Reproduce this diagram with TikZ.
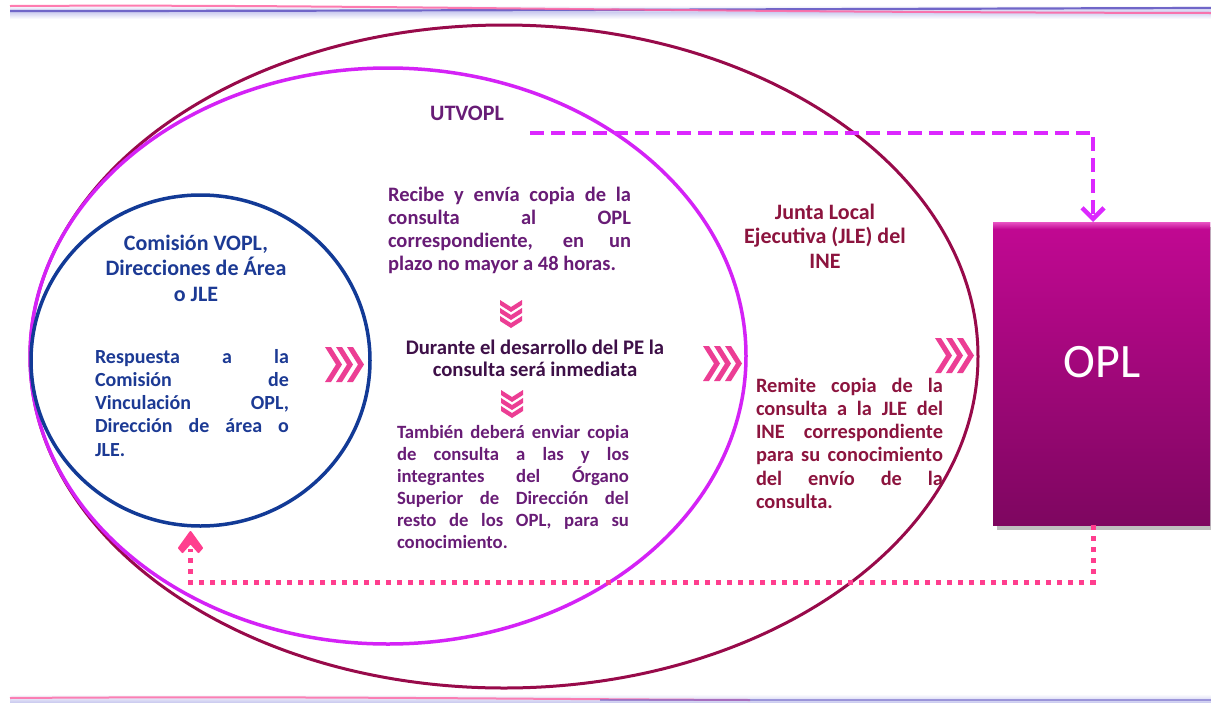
\documentclass[tikz,border=0pt]{standalone}
\usepackage{fontspec}
\setmainfont{Carlito}
\usetikzlibrary{shapes.geometric,arrows.meta}
\definecolor{crim}{RGB}{152,10,74}
\definecolor{mag}{RGB}{212,34,246}
\definecolor{blu}{RGB}{18,58,150}
\definecolor{dashc}{RGB}{220,40,255}
\definecolor{dotc}{RGB}{255,62,142}
\definecolor{chevc}{RGB}{236,62,148}
\definecolor{txtblue}{RGB}{28,58,148}
\definecolor{txtpurp}{RGB}{104,28,118}
\definecolor{txtdark}{RGB}{62,16,72}
\definecolor{txtcrim}{RGB}{140,20,62}
\definecolor{opltop}{RGB}{194,8,147}
\definecolor{oplbot}{RGB}{126,6,96}
\definecolor{oplbev}{RGB}{232,84,196}
\definecolor{bandlav}{RGB}{205,205,240}
\definecolor{bandblue}{RGB}{112,102,200}
\definecolor{bandpink}{RGB}{255,100,162}
\newcommand{\jl}[2]{\makebox[#1][s]{#2}}
\begin{document}
\begin{tikzpicture}[x=1pt,y=-1pt,
  ring/.style={ellipse, inner sep=0pt, outer sep=0pt, draw, fill=none},
  txt/.style={inner sep=0pt, outer sep=0pt, align=left},
  ctxt/.style={inner sep=0pt, outer sep=0pt, align=center},
  dashline/.style={draw=dashc, line width=4.5pt, dash pattern=on 14pt off 7pt, -{Straight Barb[length=11pt,width=22pt]}},
  dotline/.style={draw=dotc, line width=5pt, dash pattern=on 5pt off 6pt},
  chevR/.pic={\foreach \i in {0,11,22} {\fill[chevc] (\i,-17.5) -- ++(6,0) -- ++(11,17.5) -- ++(-11,17.5) -- ++(-6,0) -- ++(11,-17.5) -- cycle;}},
  chevD/.pic={\foreach \i in {0,8,16} {\fill[chevc] (-11,\i) -- (0,\i+7) -- (11,\i) -- (11,\i+5) -- (0,\i+12) -- (-11,\i+5) -- cycle;}}
]
\useasboundingbox (0,0) rectangle (1211,702);
\fill[white] (0,0) rectangle (1211,702);
% decorative bands
\shade[top color=white, bottom color=white, middle color=bandlav] (10,5) rectangle (1211,19);
\draw[line width=2.2pt, bandblue] (10,11) .. controls (400,11) and (800,9) .. (1211,8);
\draw[line width=2pt, bandpink, opacity=0.85] (10,6) .. controls (350,4) and (600,12) .. (1211,13);
\shade[top color=white, bottom color=bandlav] (10,694) rectangle (1211,702);
\draw[line width=2pt, bandpink, opacity=0.8] (10,698) .. controls (300,696) and (500,699) .. (750,700);
\draw[line width=2pt, bandblue, opacity=0.6] (600,700) -- (1211,700);
% ellipses
\node[ring, draw=crim, line width=3pt, minimum width=948pt, minimum height=663pt] (jle) at (504,356.5) {};
\node[ring, draw=mag, line width=3.5pt, minimum width=716pt, minimum height=576pt] (utv) at (388,356) {};
\node[ring, draw=blu, line width=3.5pt, minimum width=339pt, minimum height=331pt] (com) at (200.5,360.5) {};
% OPL box
\fill[black, opacity=0.25] (997,227) rectangle (1214,530);
\node[inner sep=0pt, outer sep=0pt, minimum width=217pt, minimum height=303pt, top color=opltop, bottom color=oplbot, draw=none] (opl) at (1101.5,373.5) {};
\shade[top color=oplbev, bottom color=opltop] (993,222) rectangle (1210,229);
\node[inner sep=0pt, text=white, font=\fontsize{48}{50}\selectfont, anchor=base] (oplt) at (1102,377.5) {OPL};
% connectors
\coordinate (dstart) at (530,133);
\draw[dashline] (dstart) -| ([xshift=-8.5pt]opl.north);
\coordinate (tip) at ([xshift=-10pt,yshift=-6pt]com.south);
\draw[dotline] ([xshift=-8.5pt]opl.south) -- ++(0,57) -| ([yshift=-17pt]tip);
\fill[dotc, line join=round, draw=dotc, line width=2pt] (tip) -- ++(11.5,16) -- ++(-3.5,4) -- ++(-8,-9) -- ++(-8,9) -- ++(-3.5,-4) -- cycle;
% chevrons
\pic (c1) at (325,364.5) {chevR};
\pic (c2) at (703,363.5) {chevR};
\pic (c3) at (935,355.5) {chevR};
\pic (c4) at (511,300) {chevD};
\pic (c5) at (512,390) {chevD};
% texts (base anchor = baseline of the last line)
\node[ctxt, text=txtpurp, font=\bfseries\fontsize{22}{25}\selectfont, anchor=base] (utvt) at (467,120) {UTVOPL};
\node[ctxt, text=txtblue, font=\bfseries\fontsize{22}{25.5}\selectfont, anchor=base] (comh) at (196,301) {Comisión VOPL,\\Direcciones de Área\\o JLE};
\node[txt, text=txtblue, font=\bfseries\fontsize{20}{23.3}\selectfont, anchor=base west] (comb) at (95,456.2) {\jl{194pt}{Respuesta a la}\\\jl{194pt}{Comisión de}\\\jl{194pt}{Vinculación OPL,}\\\jl{194pt}{Dirección de área o}\\JLE.};
\node[txt, text=txtpurp, font=\bfseries\fontsize{20.5}{23.3}\selectfont, anchor=base west] (rec) at (388,270.9) {\jl{243pt}{Recibe y envía copia de la}\\\jl{243pt}{consulta al OPL}\\\jl{243pt}{correspondiente, en un}\\plazo no mayor a 48 horas.};
\node[ctxt, text=txtdark, font=\bfseries\fontsize{20.7}{22.5}\selectfont, anchor=base] (dur) at (535,376.5) {Durante el desarrollo del PE la\\consulta será inmediata};
\node[txt, text=txtpurp, font=\bfseries\fontsize{18.7}{22}\selectfont, anchor=base west] (tam) at (397,548) {\jl{232pt}{También deberá enviar copia}\\\jl{232pt}{de consulta a las y los}\\\jl{232pt}{integrantes del Órgano}\\\jl{232pt}{Superior de Dirección del}\\\jl{232pt}{resto de los OPL, para su}\\conocimiento.};
\node[ctxt, text=txtcrim, font=\bfseries\fontsize{22}{24.5}\selectfont, anchor=base] (jleh) at (825,268) {Junta Local\\Ejecutiva (JLE) del\\INE};
\node[txt, text=txtcrim, font=\bfseries\fontsize{20.4}{23.3}\selectfont, anchor=base west] (rem) at (756,508.5) {\jl{187pt}{Remite copia de la}\\\jl{187pt}{consulta a la JLE del}\\\jl{187pt}{INE correspondiente}\\\jl{187pt}{para su conocimiento}\\\jl{187pt}{del envío de la}\\consulta.};
\end{tikzpicture}
\end{document}
